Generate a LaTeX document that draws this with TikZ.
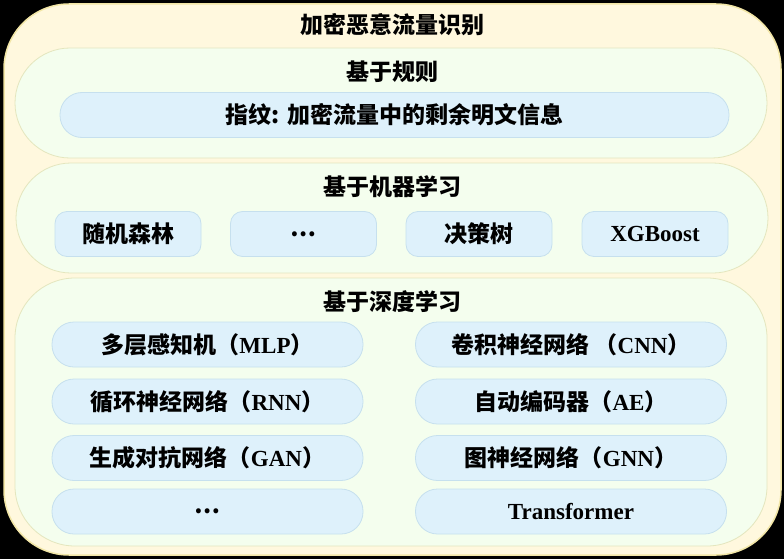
\documentclass[tikz,border=0pt]{standalone}
\usepackage{fontspec}
\setmainfont{Liberation Serif}
\newfontfamily\cjk{Noto Sans CJK SC}
\newcommand{\zh}[1]{{\cjk #1}}
\usetikzlibrary{positioning}
\definecolor{outerfill}{HTML}{FFF8DE}
\definecolor{outerline}{HTML}{F2E6A6}
\definecolor{panelfill}{HTML}{F4FEEE}
\definecolor{panelline}{HTML}{E4E6BE}
\definecolor{pillfill}{HTML}{DEF1FB}
\definecolor{pillline}{HTML}{C6E0EE}

\begin{document}
\begin{tikzpicture}[x=1pt,y=-1pt,
    font=\bfseries\fontsize{23}{27}\selectfont,
    panel/.style={draw=panelline, fill=panelfill, line width=0.8pt, minimum width=752pt},
    pill/.style={draw=pillline, fill=pillfill, line width=0.8pt, minimum height=45pt, rounded corners=22pt},
    mlbox/.style={pill, minimum width=146pt, rounded corners=12pt},
    dlbox/.style={pill, minimum width=311pt}]
  \fill[black] (0,0) rectangle (784,559);
  \useasboundingbox (0,0) rectangle (784,559);
  % outer frame
  \node (frame) at (392.5,279.5) [draw=outerline, fill=outerfill, line width=1.5pt,
     minimum width=777pt, minimum height=551pt, rounded corners=65pt] {};
  \node (title) at (392,25) {\zh{加密恶意流量识别}};
  % panels
  \node (rule) at (391,103) [panel, minimum height=110pt, rounded corners=55pt] {};
  \node (ml) at (392,218) [panel, minimum height=110pt, rounded corners=55pt] {};
  \node (dl) at (391,412) [panel, minimum height=268pt, rounded corners=60pt] {};
  \node (ruleT) at (392,72) {\zh{基于规则}};
  \node (mlT) at (392,187) {\zh{基于机器学习}};
  \node (dlT) at (392,302) {\zh{基于深度学习}};
  % rule based
  \node (finger) at (394.5,115) [pill, minimum width=669pt] {\zh{指纹: 加密流量中的剩余明文信息}};
  % machine learning
  \node (rf) at (128,234) [mlbox] {\zh{随机森林}};
  \node (mldots) at (303.5,234) [mlbox] {\zh{…}};
  \node (dt) at (479,234) [mlbox] {\zh{决策树}};
  \node (xgb) at (655,234) [mlbox] {XGBoost};
  % deep learning
  \node (mlp) at (207.5,344.5) [dlbox] {\zh{多层感知机（}MLP\zh{）}};
  \node (cnn) at (571,344.5) [dlbox] {\zh{卷积神经网络 （}CNN\zh{）}};
  \node (rnn) at (207.5,401.5) [dlbox] {\zh{循环神经网络（}RNN\zh{）}};
  \node (ae) at (571,401.5) [dlbox] {\zh{自动编码器（}AE\zh{）}};
  \node (gan) at (207.5,458) [dlbox] {\zh{生成对抗网络（}GAN\zh{）}};
  \node (gnn) at (571,458) [dlbox] {\zh{图神经网络（}GNN\zh{）}};
  \node (dldots) at (207.5,511.5) [dlbox] {\zh{…}};
  \node (trans) at (571,511.5) [dlbox] {Transformer};
\end{tikzpicture}
\end{document}
